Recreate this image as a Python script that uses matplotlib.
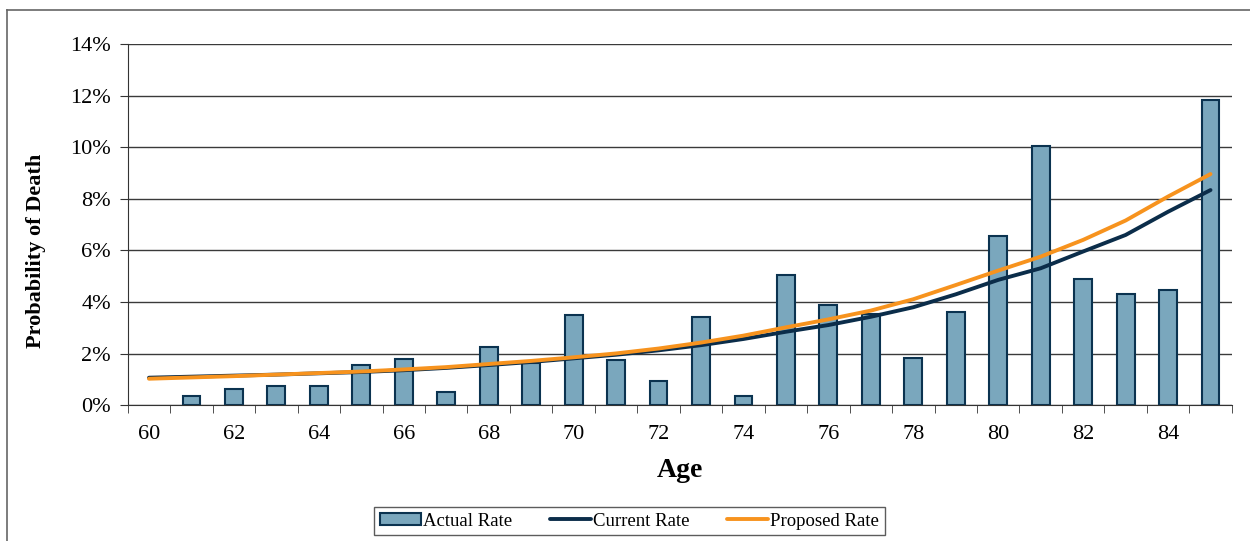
import numpy as np
import matplotlib.pyplot as plt
from matplotlib.ticker import FuncFormatter, MultipleLocator

plt.rcParams["font.family"] = ["Liberation Serif", "DejaVu Serif"]

ages = list(range(60, 86))
actual_rate = [0.00, 0.37, 0.64, 0.76, 0.76, 1.57, 1.81, 0.50, 2.26, 1.63,
               3.51, 1.77, 0.93, 3.43, 0.37, 5.04, 3.89, 3.54, 1.85, 3.60,
               6.57, 10.04, 4.90, 4.31, 4.47, 11.83]
current_rate = [1.07, 1.11, 1.15, 1.19, 1.24, 1.29, 1.36, 1.45, 1.56, 1.68,
                1.82, 1.96, 2.13, 2.33, 2.57, 2.85, 3.11, 3.43, 3.80, 4.30,
                4.86, 5.31, 5.96, 6.60, 7.50, 8.34]
proposed_rate = [1.03, 1.08, 1.13, 1.19, 1.25, 1.31, 1.39, 1.48, 1.60, 1.72,
                 1.86, 2.01, 2.20, 2.43, 2.70, 3.02, 3.33, 3.67, 4.11, 4.66,
                 5.22, 5.76, 6.41, 7.16, 8.09, 8.96]

x = np.arange(len(ages))
actual = np.array(actual_rate)
has_rate = actual > 0

fig = plt.figure(figsize=(12.5, 5.41), dpi=100)
ax = fig.add_axes([0.1022, 0.2508, 0.8832, 0.6679])

bars = ax.bar(x[has_rate], actual[has_rate], width=0.42, color="#7AA7BD",
              edgecolor="#0B3350", linewidth=1.5, label="Actual Rate", zorder=2)
cur, = ax.plot(x, current_rate, color="#0B2D4A", linewidth=2.8, label="Current Rate",
               solid_capstyle="round", zorder=3)
prop, = ax.plot(x, proposed_rate, color="#F7931E", linewidth=2.8, label="Proposed Rate",
                solid_capstyle="round", zorder=4)

ax.set_xlim(-0.5, len(ages) - 0.5)
ax.set_ylim(0, 14)
ax.yaxis.set_major_locator(MultipleLocator(2))
ax.yaxis.set_major_formatter(FuncFormatter(lambda v, p: f"{v:.0f}%"))
ax.grid(axis="y", color="#3a3a3a", linewidth=1.0, zorder=0)
ax.set_axisbelow(True)

# category labels on even ages, tick marks between categories
ax.set_xticks(x[::2])
ax.set_xticklabels([str(a) for a in ages[::2]])
ax.set_xticks(np.arange(-0.5, len(ages)), minor=True)
ax.tick_params(axis="x", which="major", length=0, pad=14, labelsize=16)
ax.tick_params(axis="x", which="minor", length=6, direction="out", color="#333333")
ax.tick_params(axis="y", length=6, direction="out", labelsize=16, pad=6, color="#333333")

for side in ["top", "right"]:
    ax.spines[side].set_visible(False)
ax.spines["left"].set_color("#333333")
ax.spines["bottom"].set_color("#333333")

ax.set_xlabel("Age", fontsize=20, fontweight="bold", labelpad=10)
ax.set_ylabel("Probability of Death", fontsize=16, fontweight="bold")
ax.yaxis.set_label_coords(-0.074, 0.427)

leg = fig.legend([bars, cur, prop], ["Actual Rate", "Current Rate", "Proposed Rate"],
                 loc="center", bbox_to_anchor=(0.5036, 0.0365), ncol=3, fontsize=13.5,
                 frameon=True, fancybox=False, edgecolor="#333333",
                 handlelength=2.2, handleheight=0.6, handletextpad=0.1,
                 columnspacing=2.0, borderpad=0.3)
leg.get_frame().set_linewidth(1.0)

# outer chart border (left and top edges)
fig.add_artist(plt.Line2D([7 / 1250, 7 / 1250], [0, 1 - 10 / 541],
                          transform=fig.transFigure, color="#666666", linewidth=1.2))
fig.add_artist(plt.Line2D([7 / 1250, 1], [1 - 10 / 541, 1 - 10 / 541],
                          transform=fig.transFigure, color="#666666", linewidth=1.2))

fig.savefig("out.png", dpi=100)
